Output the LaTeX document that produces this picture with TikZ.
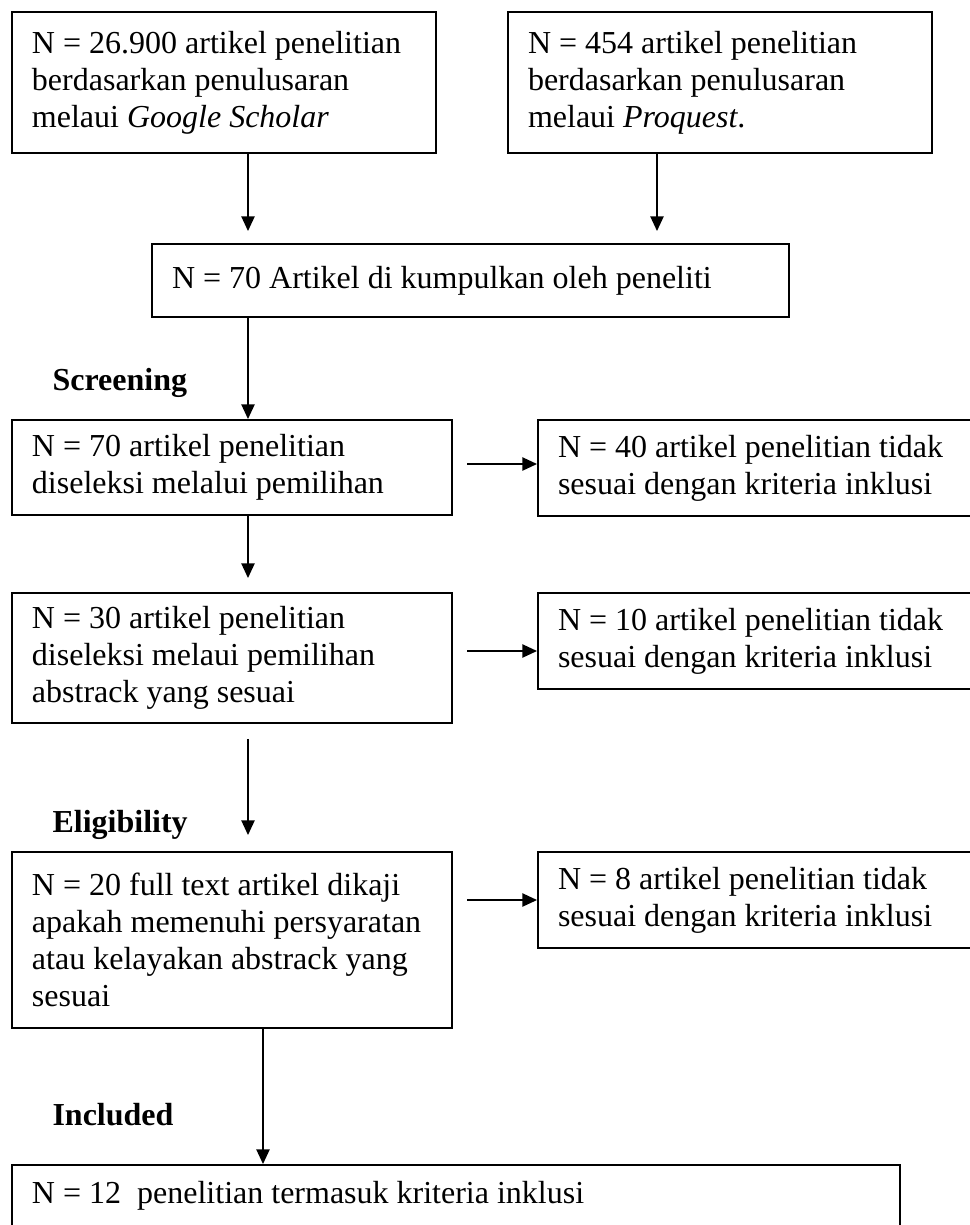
\documentclass[tikz,border=0pt]{standalone}
\usepackage{fontspec}
\setmainfont{Liberation Serif}
\usetikzlibrary{positioning, arrows.meta, calc}

\begin{document}
\begin{tikzpicture}[x=0.375pt, y=-0.375pt, font=\fontsize{12pt}{13.8pt}\selectfont]
        \tikzstyle{kotak} = [rectangle, draw, line width=0.75pt, anchor=north west, align=flush left, inner xsep=7.5pt, inner ysep=0pt]
        \tikzstyle{tahap} = [anchor=base west, inner sep=0pt, font=\fontsize{12pt}{13.8pt}\selectfont\bfseries]
        \tikzstyle{panah} = [line width=0.5pt, -{Triangle[length=5.5pt, width=5pt]}]

        \useasboundingbox (0,0) rectangle (970,1225);
        \clip (0,0) rectangle (970,1225);

        \node [kotak, minimum width=159pt, minimum height=52.9pt, text width=144pt] (google) at (11,11) {N = 26.900 artikel penelitian\\berdasarkan penulusaran\\melaui \textit{Google Scholar}};
        \node [kotak, minimum width=159pt, minimum height=52.9pt, text width=144pt] (proquest) at (507,11) {N = 454 artikel penelitian\\berdasarkan penulusaran\\melaui \textit{Proquest}.};
        \node [kotak, minimum width=239pt, minimum height=27.4pt, text width=224pt] (kumpul) at (151,243) {N = 70 Artikel di kumpulkan oleh peneliti};

        \node [tahap] (screening) at (52,390) {Screening};
        \node [kotak, minimum width=165pt, minimum height=35.6pt, text width=150pt] (seleksi1) at (11,419) {N = 70 artikel penelitian\\diseleksi melalui pemilihan};
        \node [kotak, minimum width=165pt, minimum height=36pt, text width=150pt] (keluar1) at (537,419) {N = 40 artikel penelitian tidak\\sesuai dengan kriteria inklusi};
        \node [kotak, minimum width=165pt, minimum height=48.75pt, text width=150pt] (seleksi2) at (11,592) {N = 30 artikel penelitian\\diseleksi melaui pemilihan\\abstrack yang sesuai};
        \node [kotak, minimum width=165pt, minimum height=36pt, text width=150pt] (keluar2) at (537,592) {N = 10 artikel penelitian tidak\\sesuai dengan kriteria inklusi};

        \node [tahap] (eligibility) at (52,832) {Eligibility};
        \node [kotak, minimum width=165pt, minimum height=66pt, text width=150pt] (kajian) at (11,851) {N = 20 full text artikel dikaji\\apakah memenuhi persyaratan\\atau kelayakan abstrack yang\\sesuai};
        \node [kotak, minimum width=165pt, minimum height=36pt, text width=150pt] (keluar3) at (537,851) {N = 8 artikel penelitian tidak\\sesuai dengan kriteria inklusi};

        \node [tahap] (included) at (52,1125) {Included};
        \node [kotak, minimum width=333pt, minimum height=23.25pt, text width=318pt] (termasuk) at (11,1164) {N = 12~ penelitian termasuk kriteria inklusi};

        \draw [panah, shorten >=4.5pt] (248,0 |- google.south) -- (248,0 |- kumpul.north);
        \draw [panah, shorten >=4.5pt] (657,0 |- proquest.south) -- (657,0 |- kumpul.north);
        \draw [panah] (248,0 |- kumpul.south) -- (248,0 |- seleksi1.north);
        \draw [panah, shorten <=5.25pt] (seleksi1.east |- 0,464) -- (keluar1.west |- 0,464);
        \draw [panah, shorten >=5.25pt] (248,0 |- seleksi1.south) -- (248,0 |- seleksi2.north);
        \draw [panah, shorten <=5.25pt] (seleksi2.east |- 0,651) -- (keluar2.west |- 0,651);
        \draw [panah, shorten <=5.6pt, shorten >=6pt] (248,0 |- seleksi2.south) -- (248,0 |- kajian.north);
        \draw [panah, shorten <=5.25pt] (kajian.east |- 0,900) -- (keluar3.west |- 0,900);
        \draw [panah] (263,0 |- kajian.south) -- (263,0 |- termasuk.north);
    \end{tikzpicture}
\end{document}
